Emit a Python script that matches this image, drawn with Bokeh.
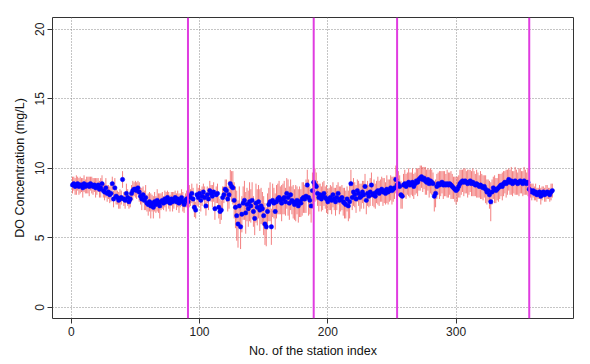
import numpy as np
from bokeh.plotting import figure
from bokeh.models import Range1d, FixedTicker, Span, ColumnDataSource
from bokeh.embed import file_html
from bokeh.resources import INLINE

# Mean DO concentration (mg/L) per station, index 1..375
do_mean = [
    8.8, 8.9, 8.7, 8.8, 8.9, 8.7, 8.8, 8.8, 8.6, 8.9,
    8.7, 8.8, 8.8, 8.7, 8.9, 8.8, 8.7, 8.8, 8.6, 8.7,
    8.8, 8.5, 8.6, 8.9, 8.4, 8.3, 8.6, 8.2, 8.3, 8.1,
    8.2, 8.9, 7.8, 8.6, 8.0, 7.9, 7.7, 7.8, 7.9, 9.2,
    7.8, 7.7, 8.2, 7.9, 7.6, 7.8, 8.2, 8.4, 8.5, 8.5,
    8.4, 8.6, 8.3, 8.0, 7.8, 8.1, 7.7, 7.9, 7.5, 7.4,
    7.6, 7.3, 7.5, 7.2, 7.6, 7.4, 7.7, 7.5, 7.3, 7.6,
    7.7, 7.5, 7.8, 7.6, 7.9, 7.7, 7.5, 7.8, 7.6, 7.7,
    7.9, 7.6, 7.8, 7.5, 7.7, 7.9, 7.6, 7.4, 7.7, 7.8,
    7.6, 8.0, 7.9, 8.2, 7.8, 7.2, 7.0, 8.1, 7.9, 8.2,
    7.7, 8.0, 8.3, 7.9, 7.3, 8.1, 7.8, 8.4, 8.2, 8.0,
    8.3, 7.1, 8.1, 8.2, 7.2, 6.9, 7.0, 7.9, 8.1, 8.5,
    8.4, 7.8, 8.1, 8.9, 8.7, 8.6, 7.7, 7.2, 6.6, 6.0,
    7.3, 5.8, 6.7, 7.5, 7.7, 6.8, 7.4, 7.1, 7.6, 7.3,
    7.7, 6.9, 6.4, 7.5, 7.2, 7.6, 7.0, 7.3, 7.1, 6.6,
    6.0, 5.8, 6.9, 7.4, 7.6, 5.8, 7.7, 7.5, 6.9, 7.6,
    7.8, 7.9, 7.7, 7.5, 7.8, 7.9, 7.6, 8.2, 7.9, 7.5,
    8.1, 7.7, 7.6, 7.4, 7.5, 7.7, 7.3, 7.6, 7.5, 7.8,
    7.9, 7.8, 8.0, 8.8, 7.9, 7.7, 7.3, 8.4, 9.0, 8.8,
    8.7, 8.2, 7.9, 8.1, 7.8, 8.0, 8.2, 7.9, 7.8, 7.6,
    7.8, 7.9, 7.7, 8.1, 7.8, 7.6, 7.9, 8.2, 7.7, 7.8,
    7.9, 7.6, 7.5, 7.4, 7.8, 7.3, 7.6, 8.9, 7.9, 8.3,
    8.1, 7.8, 8.4, 8.2, 7.9, 8.0, 8.3, 8.1, 8.7, 7.7,
    8.2, 8.0, 8.3, 8.8, 8.1, 8.2, 8.0, 8.3, 8.4, 8.2,
    8.4, 8.5, 8.3, 8.4, 8.2, 8.5, 8.3, 8.4, 8.6, 8.4,
    8.5, 8.6, 9.2, 8.8, 8.9, 8.7, 8.1, 8.0, 8.8, 8.9,
    8.7, 8.9, 9.0, 8.8, 8.9, 9.0, 8.7, 8.9, 9.1, 9.0,
    9.2, 9.3, 9.4, 9.2, 9.3, 9.1, 9.0, 9.2, 8.9, 9.1,
    9.0, 8.9, 8.0, 8.2, 8.7, 8.9, 8.8, 8.9, 9.0, 8.8,
    8.9, 8.8, 8.9, 8.8, 8.9, 8.8, 8.7, 8.6, 8.5, 8.4,
    8.5, 8.7, 8.9, 9.0, 9.1, 9.0, 9.1, 9.0, 8.9, 9.0,
    9.1, 8.9, 9.0, 8.9, 8.8, 8.9, 8.8, 8.7, 8.8, 8.7,
    8.6, 8.7, 8.5, 8.3, 8.4, 8.1, 7.6, 8.3, 8.6, 8.5,
    8.4, 8.5, 8.6, 8.7, 8.8, 8.7, 8.9, 9.0, 8.9, 9.0,
    9.2, 9.0, 9.1, 8.9, 9.0, 9.1, 9.0, 8.9, 9.0, 9.1,
    9.0, 8.9, 9.1, 9.0, 8.9, 9.0, 8.5, 8.4, 8.3, 8.4,
    8.2, 8.3, 8.1, 8.2, 8.3, 8.0, 8.2, 8.3, 8.1, 8.2,
    8.3, 8.2, 8.1, 8.3, 8.4,
]

# Spread (half-length of the error bar, mg/L) per station
do_spread = [
    0.6, 0.5, 0.6, 0.7, 0.5, 0.6, 0.6, 0.5, 0.7, 0.6,
    0.5, 0.6, 0.6, 0.7, 0.5, 0.6, 0.6, 0.5, 0.7, 0.6,
    0.5, 0.6, 0.7, 0.6, 0.5, 0.6, 0.7, 0.6, 0.5, 0.6,
    0.6, 0.5, 0.6, 0.7, 0.6, 0.5, 0.6, 0.7, 0.5, 0.6,
    0.5, 0.6, 0.7, 0.6, 0.5, 0.6, 0.6, 0.7, 0.5, 0.6,
    0.6, 0.5, 0.7, 0.6, 0.8, 0.6, 0.7, 0.9, 0.6, 0.8,
    0.7, 0.9, 0.6, 0.8, 0.7, 0.6, 0.8, 0.7, 0.9, 0.6,
    0.6, 0.5, 0.6, 0.7, 0.5, 0.6, 0.6, 0.5, 0.7, 0.6,
    0.5, 0.6, 0.6, 0.7, 0.5, 0.6, 0.7, 0.6, 0.5, 0.6,
    0.7, 0.8, 0.6, 0.7, 0.8, 0.7, 0.6, 0.8, 0.7, 0.6,
    0.8, 0.7, 0.6, 0.8, 0.7, 0.6, 0.8, 0.7, 0.6, 0.8,
    0.7, 0.8, 0.6, 0.7, 0.8, 0.9, 0.7, 0.8, 0.6, 0.7,
    0.8, 0.9, 1.0, 1.0, 1.1, 1.2, 1.3, 1.5, 1.8, 1.7,
    1.4, 1.6, 1.3, 1.2, 1.4, 1.5, 1.2, 1.3, 1.4, 1.2,
    1.3, 1.1, 1.2, 1.4, 1.3, 1.2, 1.5, 1.3, 1.2, 1.4,
    1.5, 1.4, 1.3, 1.2, 1.4, 1.3, 1.2, 1.1, 1.3, 1.2,
    1.1, 1.2, 1.0, 1.3, 1.1, 1.2, 1.0, 1.1, 1.3, 1.2,
    1.1, 1.0, 1.2, 1.1, 1.3, 1.0, 1.2, 1.1, 1.0, 1.2,
    1.1, 1.0, 1.2, 1.1, 1.3, 1.0, 1.2, 1.3, 1.3, 1.2,
    1.0, 0.9, 1.0, 0.8, 0.9, 1.0, 0.9, 0.8, 1.0, 0.9,
    0.8, 0.9, 1.0, 0.9, 0.8, 1.0, 0.9, 0.8, 1.0, 0.9,
    0.9, 1.0, 1.1, 1.0, 0.9, 1.1, 1.2, 1.0, 0.9, 1.0,
    0.9, 1.0, 0.8, 0.9, 1.0, 0.9, 0.8, 1.0, 0.9, 1.0,
    0.9, 0.8, 1.0, 0.9, 0.8, 1.0, 0.9, 0.8, 1.0, 0.9,
    0.8, 0.9, 1.0, 0.9, 0.8, 1.0, 0.9, 0.8, 0.9, 1.0,
    0.9, 0.8, 1.0, 1.1, 0.9, 0.8, 1.0, 0.9, 0.8, 1.0,
    0.9, 0.8, 1.0, 0.9, 0.8, 1.0, 0.9, 0.8, 0.9, 1.0,
    0.8, 0.9, 0.8, 0.9, 0.8, 1.0, 0.9, 0.8, 1.0, 0.9,
    0.9, 0.8, 1.1, 1.0, 0.9, 0.8, 1.0, 0.9, 0.8, 1.0,
    0.9, 0.8, 1.0, 0.9, 0.8, 1.0, 0.9, 0.8, 0.9, 1.0,
    0.9, 0.8, 1.0, 0.9, 0.8, 1.0, 0.9, 0.8, 1.0, 0.9,
    0.8, 0.9, 1.0, 0.9, 0.8, 1.0, 0.9, 0.8, 1.0, 0.9,
    0.9, 0.8, 1.0, 0.9, 0.8, 1.0, 1.4, 0.9, 0.8, 1.0,
    0.9, 0.8, 1.0, 0.9, 0.8, 1.0, 0.9, 0.8, 1.0, 0.9,
    0.8, 0.9, 1.0, 0.9, 0.8, 1.0, 0.9, 0.8, 1.0, 0.9,
    0.8, 0.9, 1.0, 0.9, 0.8, 1.0, 0.6, 0.5, 0.6, 0.5,
    0.5, 0.6, 0.5, 0.4, 0.5, 0.6, 0.5, 0.4, 0.5, 0.6,
    0.5, 0.4, 0.5, 0.6, 0.5,
]

station_index = list(range(1, len(do_mean) + 1))
boundaries = [91, 189, 254, 357]
x_ticks = [0, 100, 200, 300]
y_ticks = [0, 5, 10, 15, 20]

mean = np.array(do_mean)
spread = np.array(do_spread)
src = ColumnDataSource(dict(
    x=station_index, y=do_mean,
    lo=(mean - spread).tolist(), hi=(mean + spread).tolist(),
))

FONT = "Liberation Sans"

p = figure(width=590, height=364, output_backend="svg", toolbar_location=None,
           x_range=Range1d(-14.6, 391.5), y_range=Range1d(-0.79, 20.84),
           min_border_left=52, min_border_right=17, min_border_top=17,
           min_border_bottom=46)

p.background_fill_color = "white"
p.border_fill_color = "white"
p.outline_line_color = "#333333"
p.outline_line_width = 1

for ax in (p.xaxis[0], p.yaxis[0]):
    ax.axis_line_color = None
    ax.major_tick_line_color = "#333333"
    ax.major_tick_in = 0
    ax.major_tick_out = 5
    ax.minor_tick_line_color = None
    ax.major_label_text_font = FONT
    ax.major_label_text_font_size = "12px"
    ax.major_label_text_color = "#222222"
    ax.axis_label_text_font = FONT
    ax.axis_label_text_font_size = "12.5px"
    ax.axis_label_text_font_style = "normal"
    ax.axis_label_text_color = "#111111"

p.xaxis.ticker = FixedTicker(ticks=x_ticks)
p.yaxis.ticker = FixedTicker(ticks=y_ticks)
p.xaxis.axis_label = "No. of the station index"
p.yaxis.axis_label = "DO Concentration (mg/L)"
p.xaxis.major_label_standoff = 3
p.xaxis.axis_label_standoff = 5
p.yaxis.major_label_orientation = "parallel"
p.yaxis.major_label_standoff = 3
p.yaxis.axis_label_standoff = 6

for g in (p.xgrid[0], p.ygrid[0]):
    g.grid_line_color = "#8a8a8a"
    g.grid_line_dash = "1 2"
    g.grid_line_width = 1

p.segment(x0="x", y0="lo", x1="x", y1="hi", source=src,
          line_color="#ee4a4a", line_alpha=0.7, line_width=1)
p.scatter(x="x", y="y", source=src, size=4.4, marker="circle",
          fill_color="#0000ff", line_color="#0000ff", line_width=0.5)

for b in boundaries:
    p.add_layout(Span(location=b, dimension="height", line_color="#e03ce0",
                      line_width=2))

open("out.html", "w").write(file_html(p, INLINE))
